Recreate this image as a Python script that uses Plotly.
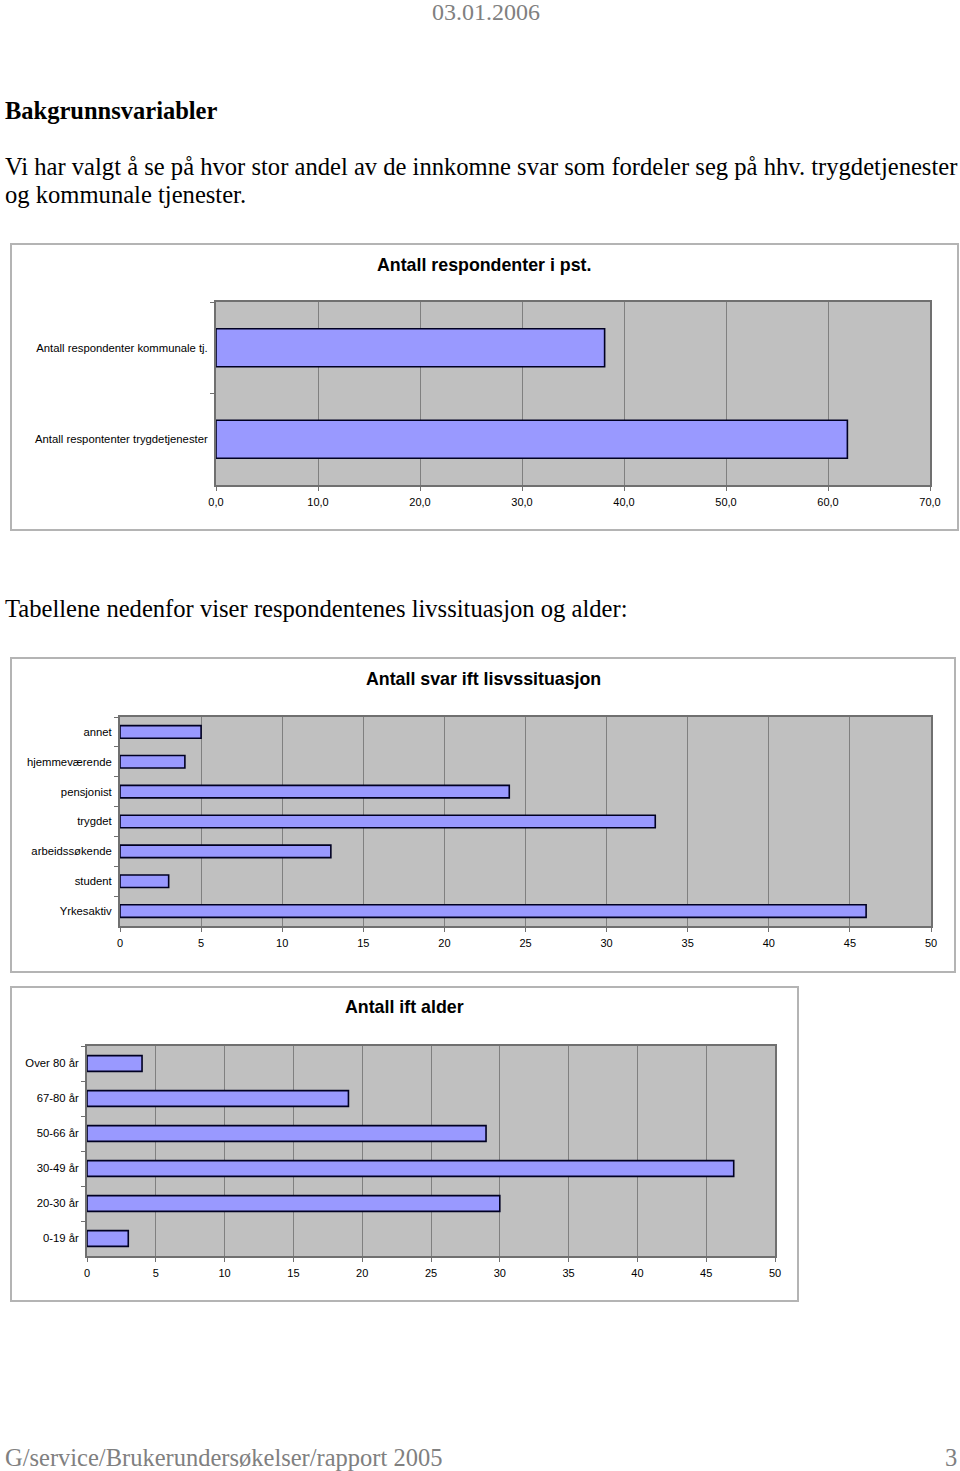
import plotly.graph_objects as go

W, H = 960, 1471

# ---------------- data ----------------
c1_categories = ["Antall respondenter kommunale tj.", "Antall respontenter trygdetjenester"]
c1_values = [38.1, 61.9]
c1_title = "Antall respondenter i pst."

c2_categories = ["annet", "hjemmeværende", "pensjonist", "trygdet", "arbeidssøkende", "student", "Yrkesaktiv"]
c2_values = [5, 4, 24, 33, 13, 3, 46]
c2_title = "Antall svar ift lisvssituasjon"

c3_categories = ["Over 80 år", "67-80 år", "50-66 år", "30-49 år", "20-30 år", "0-19 år"]
c3_values = [4, 19, 29, 47, 30, 3]
c3_title = "Antall ift alder"

# ---------------- helpers ----------------
def px(x):
    return x / W

def py(y):
    return 1 - y / H

SERIF = "Liberation Serif, Times New Roman, serif"
SANS = "Liberation Sans, Arial, sans-serif"
BAR_FILL = "#9999ff"
BAR_LINE = "#000022"
PLOT_BG = "#c0c0c0"
GRID = "#808080"

fig = go.Figure()

charts = [
    dict(cat=c1_categories, val=c1_values, title=c1_title, plot=(216, 930, 302, 485),
         outer=(11, 958, 244, 530), rng=[0, 70], dtick=10, width=0.415, fmt=".1f", title_y=265),
    dict(cat=c2_categories, val=c2_values, title=c2_title, plot=(120, 931, 717, 926),
         outer=(11, 955, 658, 972), rng=[0, 50], dtick=5, width=0.42, fmt="d", title_y=679),
    dict(cat=c3_categories, val=c3_values, title=c3_title, plot=(87, 775, 1046, 1256),
         outer=(11, 798, 987, 1301), rng=[0, 50], dtick=5, width=0.45, fmt="d", title_y=1007),
]

shapes = []
annotations = []

for i, ch in enumerate(charts, start=1):
    xa = "x" if i == 1 else f"x{i}"
    ya = "y" if i == 1 else f"y{i}"
    fig.add_trace(go.Bar(
        x=ch["val"], y=ch["cat"], orientation="h", width=ch["width"],
        marker=dict(color=BAR_FILL, line=dict(color=BAR_LINE, width=1.6)),
        xaxis=xa, yaxis=ya, showlegend=False, hoverinfo="x+y",
    ))
    x0, x1, y0, y1 = ch["plot"]
    xkey = "xaxis" if i == 1 else f"xaxis{i}"
    ykey = "yaxis" if i == 1 else f"yaxis{i}"
    fig.update_layout({
        xkey: dict(domain=[px(x0), px(x1)], anchor=ya, range=ch["rng"], dtick=ch["dtick"],
                   tick0=0, tickformat=ch["fmt"], showgrid=True, gridcolor=GRID, gridwidth=1,
                   showline=True, linecolor="#707070", linewidth=2, mirror=True,
                   ticks="outside", ticklen=4, tickcolor="#707070", automargin=False,
                   tickfont=dict(family=SANS, size=11, color="#000000"),
                   ticklabelstandoff=2, zeroline=False, fixedrange=True),
        ykey: dict(domain=[py(y1), py(y0)], anchor=xa, type="category",
                   categoryorder="array", categoryarray=ch["cat"], autorange="reversed",
                   showline=True, linecolor="#707070", linewidth=2, mirror=True,
                   ticks="outside", ticklen=4, tickson="boundaries", tickcolor="#707070",
                   tickfont=dict(family=SANS, size=11.3, color="#000000"), automargin=False,
                   ticklabelstandoff=4, showgrid=False, fixedrange=True),
    })
    shapes.append(dict(type="rect", xref="paper", yref="paper", layer="below",
                       x0=px(x0), x1=px(x1), y0=py(y1), y1=py(y0),
                       fillcolor=PLOT_BG, line=dict(width=0)))
    ox0, ox1, oy0, oy1 = ch["outer"]
    shapes.append(dict(type="rect", xref="paper", yref="paper", layer="below",
                       x0=px(ox0), x1=px(ox1), y0=py(oy1), y1=py(oy0),
                       fillcolor="rgba(0,0,0,0)", line=dict(color="#b4b4b4", width=2)))
    annotations.append(dict(text=f"<b>{ch['title']}</b>", xref="paper", yref="paper",
                            x=px((ox0 + ox1) / 2), y=py(ch["title_y"]), xanchor="center",
                            yanchor="middle", showarrow=False,
                            font=dict(family=SANS, size=17.8, color="#000000")))

def txt(s, x, y, size, color="#000000", anchor="left", bold=False):
    if bold:
        s = f"<b>{s}</b>"
    annotations.append(dict(text=s, xref="paper", yref="paper", x=px(x), y=py(y),
                            xanchor=anchor, yanchor="middle", showarrow=False,
                            font=dict(family=SERIF, size=size, color=color)))

txt("03.01.2006", 486, 12, 24, color="#808080", anchor="center")
txt("Bakgrunnsvariabler", 3, 110, 24.5, bold=True)
txt("Vi har valgt å se på hvor stor andel av de innkomne svar som fordeler seg på hhv. trygdetjenester", 3, 166, 24.6)
txt("og kommunale tjenester.", 3, 194, 24.6)
txt("Tabellene nedenfor viser respondentenes livssituasjon og alder:", 3, 608, 24.6)
txt("G/service/Brukerundersøkelser/rapport 2005", 3, 1457, 24.5, color="#808080")
txt("3", 959, 1457, 24.5, color="#808080", anchor="right")

fig.update_layout(
    width=W, height=H, autosize=False,
    margin=dict(l=0, r=0, t=0, b=0, pad=0, autoexpand=False),
    paper_bgcolor="#ffffff", plot_bgcolor="rgba(0,0,0,0)",
    separators=", ",
    shapes=shapes, annotations=annotations,
    font=dict(family=SANS, size=11, color="#000000"),
)

fig.write_html("out.html")
